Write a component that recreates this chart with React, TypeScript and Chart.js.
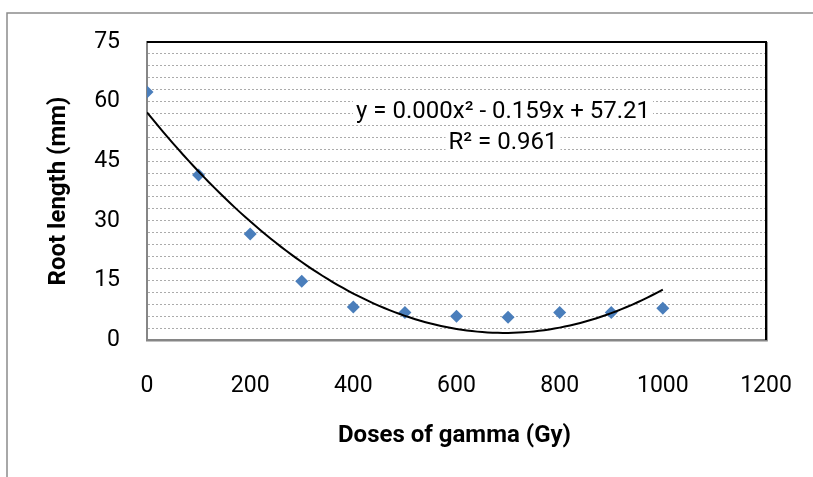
import React, { useEffect, useRef } from "react";
import { Chart, registerables } from "chart.js";

Chart.register(...registerables);

// ---- data ----
const doses = [0, 100, 200, 300, 400, 500, 600, 700, 800, 900, 1000];
const rootLength = [62.4, 41.5, 26.7, 14.8, 8.3, 6.9, 6.0, 5.7, 6.9, 6.9, 8.0];
const xTickValues = [0, 200, 400, 600, 800, 1000, 1200];
const yTickValues = [0, 15, 30, 45, 60, 75];
const xTitle = "Doses of gamma (Gy)";
const yTitle = "Root length (mm)";
const equationText = "y = 0.000x² - 0.159x + 57.21";
const r2Text = "R² = 0.961";

// least squares quadratic trendline (as Excel does)
function quadFit(xs: number[], ys: number[]) {
  let s0 = 0, s1 = 0, s2 = 0, s3 = 0, s4 = 0, t0 = 0, t1 = 0, t2 = 0;
  for (let i = 0; i < xs.length; i++) {
    const x = xs[i] / 100, y = ys[i];
    s0 += 1; s1 += x; s2 += x * x; s3 += x ** 3; s4 += x ** 4;
    t0 += y; t1 += x * y; t2 += x * x * y;
  }
  const M = [
    [s0, s1, s2, t0],
    [s1, s2, s3, t1],
    [s2, s3, s4, t2],
  ];
  for (let c = 0; c < 3; c++) {
    for (let r = c + 1; r < 3; r++) {
      const f = M[r][c] / M[c][c];
      for (let k = c; k < 4; k++) M[r][k] -= f * M[c][k];
    }
  }
  const sol = [0, 0, 0];
  for (let r = 2; r >= 0; r--) {
    let s = M[r][3];
    for (let k = r + 1; k < 3; k++) s -= M[r][k] * sol[k];
    sol[r] = s / M[r][r];
  }
  return (x: number) => sol[0] + sol[1] * (x / 100) + sol[2] * (x / 100) ** 2;
}

const FONT = "Roboto";

const framePlugin = {
  id: "frame",
  beforeDraw(chart: any) {
    const ctx = chart.ctx;
    ctx.save();
    ctx.fillStyle = "#ffffff";
    ctx.fillRect(0, 0, chart.width, chart.height);
    ctx.strokeStyle = "#8c8c8c";
    ctx.lineWidth = 1.5;
    ctx.beginPath();
    ctx.moveTo(chart.width + 2, 13);
    ctx.lineTo(7, 13);
    ctx.lineTo(7, chart.height + 2);
    ctx.stroke();
    ctx.restore();
  },
  beforeDatasetsDraw(chart: any) {
    const { ctx, chartArea: a } = chart;
    ctx.save();
    // annotation backgrounds
    ctx.font = `24px ${FONT}`;
    const cx = 503;
    const lines = [
      { t: equationText, y: 112 },
      { t: r2Text, y: 143 },
    ];
    ctx.fillStyle = "#ffffff";
    for (const l of lines) {
      const w = ctx.measureText(l.t).width;
      ctx.fillRect(cx - w / 2 - 3, l.y - 12, w + 6, 24);
    }
    ctx.fillStyle = "#000000";
    ctx.textAlign = "center";
    ctx.textBaseline = "middle";
    for (const l of lines) ctx.fillText(l.t, cx, l.y);
    // plot area top & right border
    ctx.strokeStyle = "#9a9a9a";
    ctx.lineWidth = 1;
    ctx.beginPath();
    ctx.moveTo(a.right + 1.5, a.top);
    ctx.lineTo(a.right + 1.5, a.bottom + 1.5);
    ctx.stroke();
    ctx.strokeStyle = "#000000";
    ctx.lineWidth = 2;
    ctx.beginPath();
    ctx.moveTo(a.left, a.top);
    ctx.lineTo(a.right, a.top);
    ctx.lineTo(a.right, a.bottom);
    ctx.stroke();
    ctx.restore();
  },
  afterDraw(chart: any) {
    const { ctx, chartArea: a } = chart;
    ctx.save();
    ctx.fillStyle = "#000000";
    ctx.font = `bold 24px ${FONT}`;
    ctx.textAlign = "center";
    ctx.textBaseline = "middle";
    ctx.fillText(xTitle, (a.left + a.right) / 2 - 2, 436);
    ctx.translate(59, (a.top + a.bottom) / 2);
    ctx.rotate(-Math.PI / 2);
    ctx.fillText(yTitle, 0, 0);
    ctx.restore();
  },
};

export default function App() {
  const ref = useRef<HTMLCanvasElement>(null);
  useEffect(() => {
    if (!ref.current) return;
    const fit = quadFit(doses, rootLength);
    const trend: { x: number; y: number }[] = [];
    for (let x = doses[0]; x <= doses[doses.length - 1]; x += 10) trend.push({ x, y: fit(x) });

    const chart = new Chart(ref.current, {
      type: "scatter",
      data: {
        datasets: [
          {
            label: "Trendline",
            data: trend,
            showLine: true,
            borderColor: "#000000",
            borderWidth: 2,
            pointRadius: 0,
            tension: 0,
            order: 0,
          },
          {
            label: "Root length",
            data: doses.map((d, i) => ({ x: d, y: rootLength[i] })),
            pointStyle: "rectRot",
            pointRadius: 6.5,
            backgroundColor: "#4a7ebb",
            borderColor: "#4a7ebb",
            borderWidth: 0,
            order: 1,
          },
        ],
      },
      options: {
        responsive: false,
        animation: false,
        devicePixelRatio: 1,
        layout: { padding: { top: 42, right: 47, left: 0, bottom: 0 } },
        plugins: { legend: { display: false }, tooltip: { enabled: false } },
        scales: {
          x: {
            type: "linear",
            min: xTickValues[0],
            max: xTickValues[xTickValues.length - 1],
            afterBuildTicks: (s: any) => {
              s.ticks = xTickValues.map((v) => ({ value: v }));
            },
            afterFit: (s: any) => {
              s.height = 137;
              s.paddingLeft = 0;
              s.paddingRight = 0;
            },
            grid: { display: false, drawTicks: false },
            border: { display: true, color: "#868686", width: 2.5 },
            ticks: {
              color: "#000000",
              padding: 32,
              font: { family: FONT, size: 23 },
              maxRotation: 0,
              autoSkip: false,
              callback: (v: any) => String(v),
            },
          },
          y: {
            type: "linear",
            min: yTickValues[0],
            max: yTickValues[yTickValues.length - 1],
            ticks: {
              stepSize: 3,
              autoSkip: false,
              color: "#000000",
              padding: 27,
              font: { family: FONT, size: 23 },
              callback: (v: any) => (yTickValues.includes(Math.round(v)) && Math.abs(v - Math.round(v)) < 1e-6 ? String(Math.round(v)) : ""),
            },
            afterFit: (s: any) => {
              s.width = 147;
              s.paddingTop = 0;
              s.paddingBottom = 0;
            },
            grid: { display: true, drawTicks: false, color: "#ababab", lineWidth: 1 },
            border: { display: true, color: "#868686", width: 2, dash: [2, 2] },
          },
        },
      },
      plugins: [framePlugin],
    } as any);
    return () => chart.destroy();
  }, []);

  return (
    <div style={{ position: "fixed", left: 0, top: 0, width: 813, height: 477, background: "#fff" }}>
      <canvas ref={ref} width={813} height={477} style={{ width: 813, height: 477, display: "block" }} />
    </div>
  );
}
